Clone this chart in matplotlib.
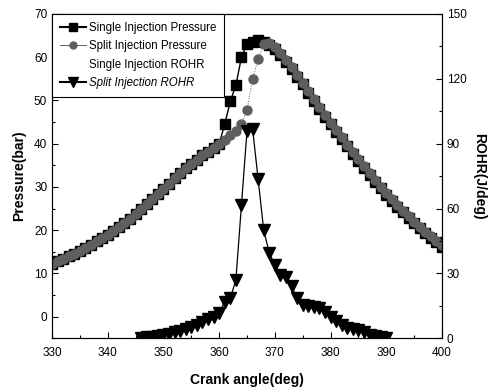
import numpy as np
import matplotlib.pyplot as plt
from matplotlib.lines import Line2D
from matplotlib.ticker import MultipleLocator

plt.rcParams['font.family'] = ['Liberation Sans', 'DejaVu Sans']

# crank angle, 1 deg steps
crank = np.arange(330, 401)

# common compression part, 330..360 deg
compression = [12.3, 12.8, 13.4, 14.0, 14.6, 15.2, 15.9, 16.6, 17.4, 18.2,
               19.0, 19.9, 20.8, 21.7, 22.7, 23.8, 24.9, 26.0, 27.2, 28.4,
               29.6, 30.8, 32.0, 33.2, 34.3, 35.2, 36.3, 37.3, 38.2, 39.1,
               40.0]

# 361..400 deg
single_tail = [44.5, 49.8, 53.5, 60.0, 63.0, 63.6, 63.9, 63.5, 62.8, 61.8,
               60.5, 59.0, 57.3, 55.5, 53.7, 51.8, 49.9, 48.0, 46.2, 44.5,
               42.8, 41.1, 39.4, 37.7, 36.0, 34.4, 32.8, 31.2, 29.7, 28.2,
               26.8, 25.4, 24.1, 22.8, 21.6, 20.4, 19.3, 18.2, 17.2, 16.2]
split_tail = [40.9, 41.9, 43.0, 44.5, 47.8, 55.0, 59.5, 63.0, 63.3, 62.3,
              60.9, 59.4, 57.7, 55.9, 54.1, 52.2, 50.3, 48.4, 46.6, 44.9,
              43.2, 41.5, 39.8, 38.1, 36.4, 34.8, 33.2, 31.6, 30.1, 28.6,
              27.2, 25.8, 24.5, 23.2, 22.0, 20.8, 19.7, 18.6, 17.6, 16.6]

single_pressure = compression + single_tail
split_pressure = compression + split_tail

# split injection heat release rate, 346..390 deg
rohr_angle = np.arange(346, 391)
split_rohr = [0.2, 0.4, 0.6, 1.0, 1.4, 2.0, 2.7, 3.5, 4.3, 5.3,
              6.3, 7.5, 8.8, 9.8, 11.7, 17.0, 18.5, 27.0, 61.5, 96.0,
              97.0, 73.5, 50.0, 39.5, 34.0, 29.5, 28.5, 24.0, 18.5, 15.5,
              14.8, 14.5, 14.0, 12.0, 10.0, 8.0, 6.0, 5.0, 4.5, 4.0,
              3.0, 1.5, 1.0, 0.5, 0.2]

fig = plt.figure(figsize=(4.96, 3.88), dpi=100)
ax = fig.add_axes([0.105, 0.128, 0.786, 0.836])
ax2 = ax.twinx()

ax.plot(crank, single_pressure, color='black', marker='s', ms=7, lw=1.0)
ax.plot(crank, split_pressure, color='#5e5e5e', marker='o', ms=6.5, lw=0.7,
        ls=':')
ax2.plot(rohr_angle, split_rohr, color='black', marker='v', ms=8, lw=0.9)

ax.set_xlim(330, 400)
ax.set_ylim(-5, 70)
ax2.set_ylim(0, 150)

ax.set_xticks(np.arange(330, 401, 10))
ax.set_yticks(np.arange(0, 71, 10))
ax2.set_yticks(np.arange(0, 151, 30))
ax.xaxis.set_minor_locator(MultipleLocator(5))
ax.yaxis.set_minor_locator(MultipleLocator(5))
ax2.yaxis.set_minor_locator(MultipleLocator(15))

ax.tick_params(which='both', direction='in', top=False, right=False,
               labelsize=8.5, width=0.8)
ax.tick_params(which='major', length=4)
ax.tick_params(which='minor', length=2)
ax.tick_params(axis='x', pad=6)
ax2.tick_params(which='both', direction='in', labelsize=8.5, width=0.8)
ax2.tick_params(which='major', length=4)
ax2.tick_params(which='minor', length=2)

ax.set_xlabel('Crank angle(deg)', fontsize=10, fontweight='bold', labelpad=10)
ax.set_ylabel('Pressure(bar)', fontsize=10, fontweight='bold', labelpad=6)
ax2.set_ylabel('ROHR(J/deg)', fontsize=10, fontweight='bold', rotation=270,
               labelpad=14)

handles = [
    Line2D([], [], color='black', marker='s', ms=5.5, lw=1.5),
    Line2D([], [], color='#5e5e5e', marker='o', ms=5, lw=0.7),
    Line2D([], [], color='none'),
    Line2D([], [], color='black', marker='v', ms=6.5, lw=1.5),
]
labels = ['Single Injection Pressure', 'Split Injection Pressure',
          'Single Injection ROHR', 'Split Injection ROHR']
leg = ax2.legend(handles, labels, loc='upper left', fontsize=8.3,
                 borderaxespad=0, fancybox=False, framealpha=1,
                 edgecolor='black', handlelength=2.2, handletextpad=0.3,
                 labelspacing=0.55, borderpad=0.7)
leg.get_frame().set_linewidth(0.8)
leg.get_texts()[3].set_style('italic')

fig.savefig('out.png', dpi=100)
